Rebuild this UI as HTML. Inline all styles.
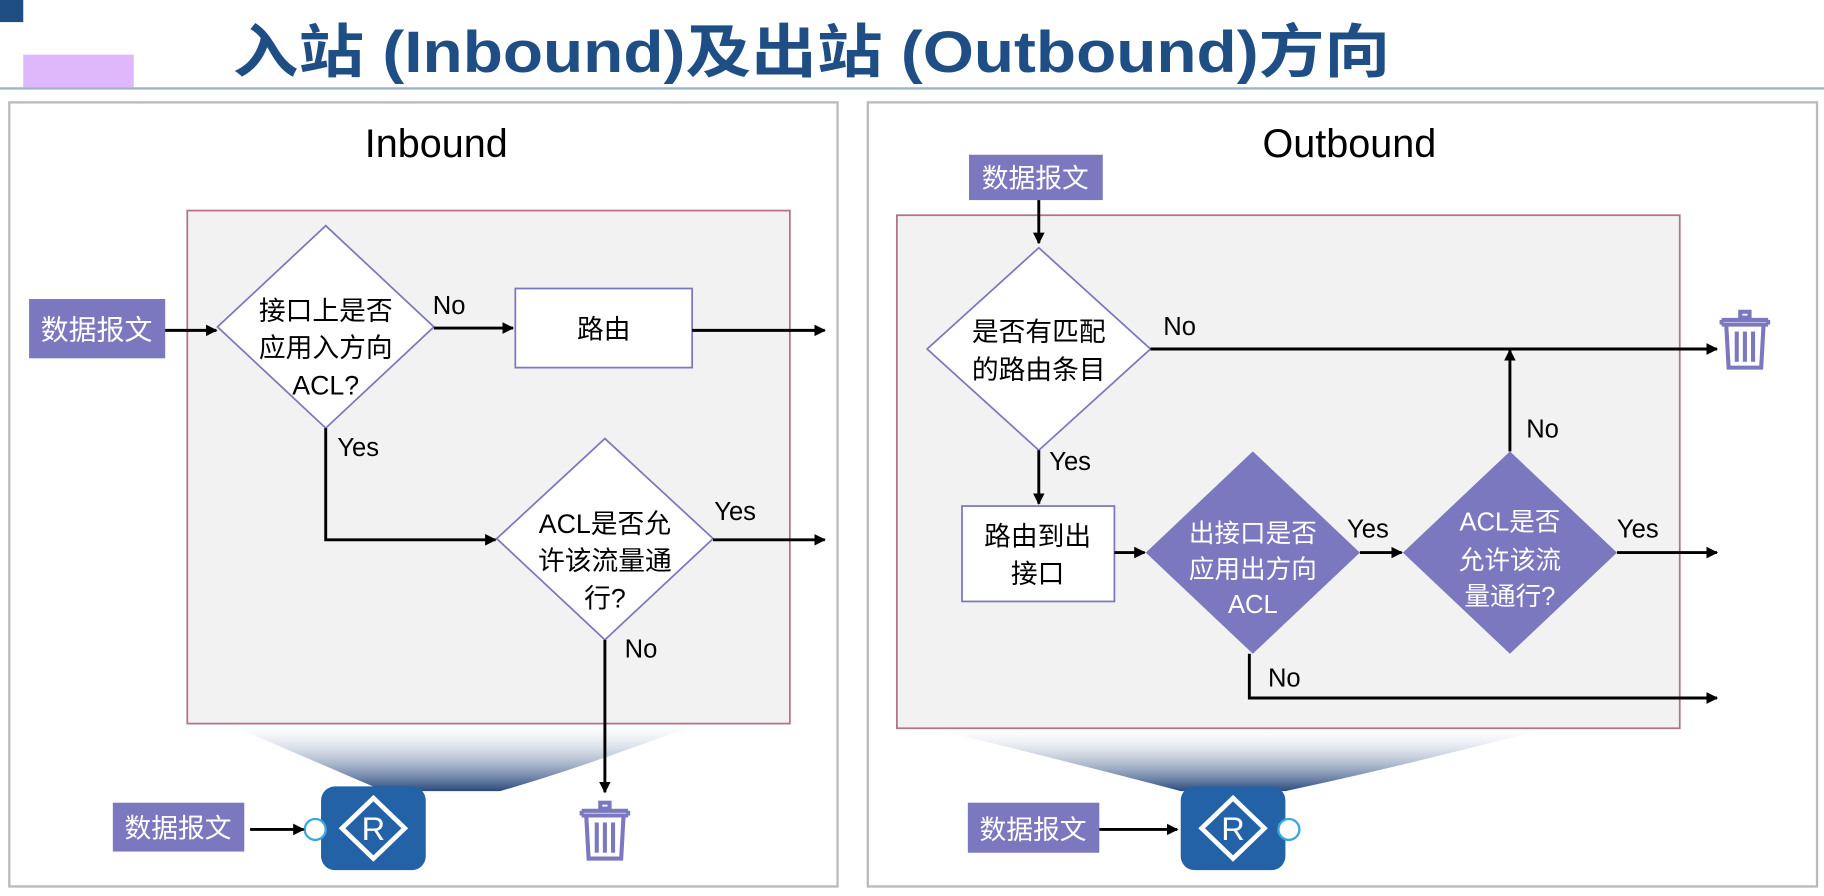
<!DOCTYPE html>
<html><head><meta charset="utf-8"><style>
html,body{margin:0;padding:0;background:#fff;}
svg{display:block;}
text{font-family:"Liberation Sans","Noto Sans CJK SC",sans-serif;}
</style></head><body>
<svg width="1824" height="896" viewBox="0 0 1568 770.2" preserveAspectRatio="none" xmlns="http://www.w3.org/2000/svg">
<defs>
<marker id="ar" markerWidth="12" markerHeight="12" refX="9" refY="6" orient="auto" markerUnits="userSpaceOnUse"><path d="M0,1 L10,6 L0,11 Z" fill="#000"/></marker>
<linearGradient id="g" x1="0" y1="0" x2="0" y2="1"><stop offset="0" stop-color="#ffffff" stop-opacity="0.2"/><stop offset="1" stop-color="#2b4a7e"/></linearGradient>
<g id="trash" fill="none" stroke="#7b78bf" stroke-width="3.5"><rect x="-4" y="0" width="8" height="5"/><line x1="-20" y1="7" x2="20" y2="7"/><line x1="-20" y1="7" x2="-20" y2="11"/><line x1="20" y1="7" x2="20" y2="11"/><line x1="-20" y1="11" x2="20" y2="11"/><path d="M-16,12 L-14,48 L14,48 L16,12"/><line x1="-7" y1="17" x2="-7" y2="43"/><line x1="0" y1="17" x2="0" y2="43"/><line x1="7" y1="17" x2="7" y2="43"/></g>
<g id="router"><rect x="0" y="0" width="90" height="72" rx="12" fill="#2462a8"/><path d="M45,10 L72,36 L45,62 L18,36 Z" fill="none" stroke="#fff" stroke-width="4"/><text x="45" y="46" font-size="28" fill="#fff" text-anchor="middle">R</text></g>
</defs>
<rect x="0" y="0" width="20" height="19" fill="#1f4e85"/>
<rect x="20" y="47" width="95" height="28" fill="#deb8fb"/>
<line x1="0" y1="76" x2="1568" y2="76" stroke="#9db4cc" stroke-width="2"/>
<text x="200" y="62" font-size="50" font-weight="bold" fill="#1f4e85" textLength="995" lengthAdjust="spacingAndGlyphs">入站 (Inbound)及出站 (Outbound)方向</text>

<!-- Left panel -->
<rect x="8" y="88" width="712" height="674" fill="#fff" stroke="#bbb" stroke-width="2"/>
<text x="375" y="135" font-size="34" text-anchor="middle">Inbound</text>
<path d="M195,622 L600,622 Q500,660 430,680 L330,680 Q260,650 195,622 Z" fill="url(#g)"/>
<rect x="161" y="181" width="518" height="441" fill="#f2f2f2" stroke="#b5708a" stroke-width="1.5"/>
<rect x="25" y="257" width="117" height="51" fill="#7b78bf"/>
<text x="83" y="292" font-size="24" fill="#fff" text-anchor="middle">数据报文</text>
<line x1="142" y1="284" x2="186" y2="284" stroke="#000" stroke-width="2.5" marker-end="url(#ar)"/>
<polygon points="280,194 373,281 280,368 187,281" fill="#fff" stroke="#7b78bf" stroke-width="1.5"/>
<text x="280" y="275" font-size="23" text-anchor="middle">接口上是否</text>
<text x="280" y="307" font-size="23" text-anchor="middle">应用入方向</text>
<text x="280" y="339" font-size="23" text-anchor="middle">ACL?</text>
<text x="372" y="270" font-size="22">No</text>
<line x1="373" y1="282" x2="441" y2="282" stroke="#000" stroke-width="2.5" marker-end="url(#ar)"/>
<rect x="443" y="248" width="152" height="68" fill="#fff" stroke="#7b78bf" stroke-width="1.5"/>
<text x="519" y="291" font-size="23" text-anchor="middle">路由</text>
<line x1="595" y1="284" x2="709" y2="284" stroke="#000" stroke-width="2.5" marker-end="url(#ar)"/>
<polyline points="280,368 280,464 426,464" fill="none" stroke="#000" stroke-width="2.5" marker-end="url(#ar)"/>
<text x="290" y="392" font-size="22">Yes</text>
<polygon points="520,377 613,463 520,550 427,463" fill="#fff" stroke="#7b78bf" stroke-width="1.5"/>
<text x="520" y="458" font-size="23" text-anchor="middle">ACL是否允</text>
<text x="520" y="490" font-size="23" text-anchor="middle">许该流量通</text>
<text x="520" y="522" font-size="23" text-anchor="middle">行?</text>
<text x="614" y="447" font-size="22">Yes</text>
<line x1="613" y1="464" x2="709" y2="464" stroke="#000" stroke-width="2.5" marker-end="url(#ar)"/>
<text x="537" y="565" font-size="22">No</text>
<line x1="520" y1="550" x2="520" y2="681" stroke="#000" stroke-width="2.5" marker-end="url(#ar)"/>
<use href="#trash" x="520" y="690"/>
<use href="#router" x="276" y="676"/>
<circle cx="271" cy="713" r="9" fill="#fff" stroke="#3aa7dc" stroke-width="2"/>
<rect x="97" y="690" width="113" height="42" fill="#7b78bf"/>
<text x="153" y="720" font-size="23" fill="#fff" text-anchor="middle">数据报文</text>
<line x1="215" y1="713" x2="261" y2="713" stroke="#000" stroke-width="2.5" marker-end="url(#ar)"/>

<!-- Right panel -->
<rect x="746" y="88" width="816" height="674" fill="#fff" stroke="#bbb" stroke-width="2"/>
<text x="1160" y="135" font-size="34" text-anchor="middle">Outbound</text>
<path d="M800,626 L1330,626 Q1200,660 1105,680 L1015,680 Q900,650 800,626 Z" fill="url(#g)"/>
<rect x="771" y="185" width="673" height="441" fill="#f2f2f2" stroke="#b5708a" stroke-width="1.5"/>
<rect x="833" y="133" width="115" height="39" fill="#7b78bf"/>
<text x="890" y="161" font-size="23" fill="#fff" text-anchor="middle">数据报文</text>
<line x1="893" y1="172" x2="893" y2="209" stroke="#000" stroke-width="2.5" marker-end="url(#ar)"/>
<polygon points="893,213 989,300 893,387 797,300" fill="#fff" stroke="#7b78bf" stroke-width="1.5"/>
<text x="893" y="293" font-size="23" text-anchor="middle">是否有匹配</text>
<text x="893" y="326" font-size="23" text-anchor="middle">的路由条目</text>
<text x="1000" y="288" font-size="22">No</text>
<line x1="989" y1="300" x2="1476" y2="300" stroke="#000" stroke-width="2.5" marker-end="url(#ar)"/>
<use href="#trash" x="1500" y="268"/>
<text x="902" y="404" font-size="22">Yes</text>
<line x1="893" y1="387" x2="893" y2="433" stroke="#000" stroke-width="2.5" marker-end="url(#ar)"/>
<rect x="827" y="435" width="131" height="82" fill="#fff" stroke="#7b78bf" stroke-width="1.5"/>
<text x="892" y="469" font-size="23" text-anchor="middle">路由到出</text>
<text x="892" y="501" font-size="23" text-anchor="middle">接口</text>
<line x1="958" y1="475" x2="984" y2="475" stroke="#000" stroke-width="2.5" marker-end="url(#ar)"/>
<polygon points="1077,388 1169,475 1077,562 985,475" fill="#7b78bf"/>
<text x="1077" y="466" font-size="22" fill="#fff" text-anchor="middle">出接口是否</text>
<text x="1077" y="497" font-size="22" fill="#fff" text-anchor="middle">应用出方向</text>
<text x="1077" y="527" font-size="22" fill="#fff" text-anchor="middle">ACL</text>
<text x="1158" y="462" font-size="22">Yes</text>
<line x1="1169" y1="475" x2="1205" y2="475" stroke="#000" stroke-width="2.5" marker-end="url(#ar)"/>
<polygon points="1298,388 1390,475 1298,562 1206,475" fill="#7b78bf"/>
<text x="1298" y="456" font-size="22" fill="#fff" text-anchor="middle">ACL是否</text>
<text x="1298" y="489" font-size="22" fill="#fff" text-anchor="middle">允许该流</text>
<text x="1298" y="520" font-size="22" fill="#fff" text-anchor="middle">量通行?</text>
<line x1="1298" y1="388" x2="1298" y2="301" stroke="#000" stroke-width="2.5" marker-end="url(#ar)"/>
<text x="1312" y="376" font-size="22">No</text>
<text x="1390" y="462" font-size="22">Yes</text>
<line x1="1390" y1="475" x2="1476" y2="475" stroke="#000" stroke-width="2.5" marker-end="url(#ar)"/>
<polyline points="1074,562 1074,600 1476,600" fill="none" stroke="#000" stroke-width="2.5" marker-end="url(#ar)"/>
<text x="1090" y="590" font-size="22">No</text>
<use href="#router" x="1015" y="676"/>
<circle cx="1108" cy="713" r="9" fill="#fff" stroke="#3aa7dc" stroke-width="2"/>
<rect x="832" y="690" width="113" height="43" fill="#7b78bf"/>
<text x="888" y="721" font-size="23" fill="#fff" text-anchor="middle">数据报文</text>
<line x1="945" y1="713" x2="1012" y2="713" stroke="#000" stroke-width="2.5" marker-end="url(#ar)"/>
</svg>
</body></html>
